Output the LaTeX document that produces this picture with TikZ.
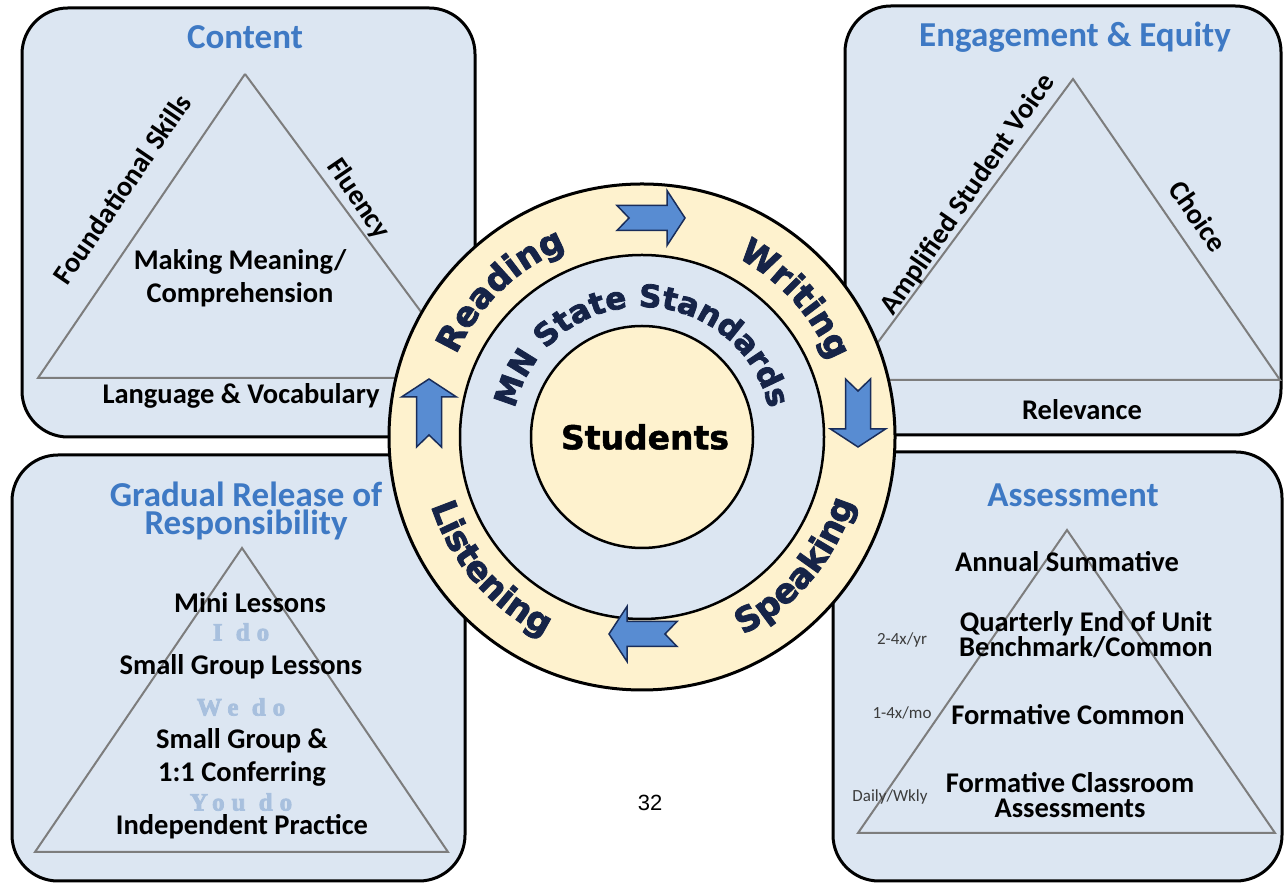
\documentclass[tikz,border=0pt]{standalone}
\usepackage{fontspec}
\setmainfont{Carlito}
\newfontfamily\ringfont{DejaVu Sans}[FakeBold=2.5]
\newfontfamily\studfont{DejaVu Sans}[FakeBold=1.5]
\newfontfamily\dofont{Liberation Serif}[LetterSpace=28, FakeBold=3]
\newfontfamily\numfont{Liberation Sans}
\usetikzlibrary{decorations.text}
\definecolor{panelbg}{RGB}{220,230,242}
\definecolor{ringcream}{RGB}{254,242,206}
\definecolor{arrowblue}{RGB}{88,140,210}
\definecolor{arrowedge}{RGB}{25,45,90}
\definecolor{titleblue}{RGB}{62,121,196}
\definecolor{ringtext}{RGB}{22,36,72}
\definecolor{trigray}{RGB}{125,125,125}
\definecolor{dotext}{RGB}{168,192,222}
\definecolor{smallgray}{RGB}{60,60,60}
\tikzset{
  panel/.style={draw=black, line width=3pt, fill=panelbg, rounded corners=46pt},
  tri/.style={draw=trigray, line width=2pt},
  title/.style={text=titleblue, font=\bfseries\fontsize{35}{30}\selectfont, align=center, inner sep=0pt},
  body/.style={text=black, font=\bfseries\fontsize{28.5}{33}\selectfont, align=center, inner sep=0pt},
  small/.style={text=smallgray, font=\fontsize{17}{20}\selectfont, inner sep=0pt},
  doit/.style={text=dotext, font=\dofont\bfseries\fontsize{25}{26}\selectfont, inner sep=0pt},
  arrowstyle/.style={fill=arrowblue, draw=arrowedge, line width=1.5pt, line join=miter},
  notcharrow/.pic={\path[arrowstyle] (-34,-12.5) -- (16,-12.5) -- (16,-27.5) -- (34,0) -- (16,27.5) -- (16,12.5) -- (-34,12.5) -- (-22,0) -- cycle;},
  ringword/.style 2 args={decorate, decoration={text along path, text align=center, text color=ringtext,
      text={|\ringfont\bfseries\fontsize{#2}{#2}\selectfont|#1}}},
}
\begin{document}
\begin{tikzpicture}[x=1pt,y=1pt]
\useasboundingbox (0,0) rectangle (1284,885);
\fill[white] (0,0) rectangle (1284,885);

% panels
\draw[panel] (22,448) rectangle (475,877);
\draw[panel] (845,450) rectangle (1281,879);
\draw[panel] (12,4) rectangle (465,430);
\draw[panel] (833,4) rectangle (1282,433);

% triangles
\coordinate (ca) at (245,811); \coordinate (cl) at (38,507); \coordinate (cr) at (470,507);
\draw[tri] (ca) -- (cl) -- (cr) -- (ca);
\coordinate (ea) at (1073,806); \coordinate (el) at (850,505); \coordinate (er) at (1280,505);
\draw[tri] (ea) -- (el) -- (er) -- cycle;
\coordinate (ga) at (242,337); \coordinate (gl) at (35,33); \coordinate (gr) at (448,33);
\draw[tri] (ga) -- (gl) -- (gr) -- cycle;
\coordinate (aa) at (1067,355); \coordinate (al) at (858,52); \coordinate (ar) at (1275,52);
\draw[tri] (aa) -- (al) -- (ar) -- cycle;

% Content
\node[title] (tcontent) at (245,848) {Content};
\node[body] (mm) at (240,607) {Making Meaning/\\Comprehension};
\node[body, rotate=55.7] (fs) at (122,696) {Foundational Skills};
\node[body, rotate=-55.7] (fl) at (358,686) {Fluency};
\node[body] (lv) at (241,489) {Language \& Vocabulary};

% Engagement
\node[title] (teng) at (1075,848) {Engagement \& Equity};
\node[body, rotate=55.5] (asv) at (968,690) {Amplified Student Voice};
\node[body, rotate=-55.5] (ch) at (1198,669) {Choice};
\node[body] (rel) at (1082,475) {Relevance};

% Gradual release
\node[title, font=\bfseries\fontsize{35}{28}\selectfont] (tgrr) at (246,374) {Gradual Release of\\Responsibility};
\node[body] (ml) at (250,282) {Mini Lessons};
\node[doit] (ido) at (241,253) {I do};
\node[body] (sgl) at (241,218) {Small Group Lessons};
\node[doit] (wedo) at (241,178) {We do};
\node[body] (sg) at (242,128) {Small Group \&\\1:1 Conferring};
\node[doit] (youdo) at (241,83) {You do};
\node[body] (ip) at (242,58) {Independent Practice};

% Assessment
\node[title] (tass) at (1073,390) {Assessment};
\node[body] (ann) at (1067,323) {Annual Summative};
\node[body, font=\bfseries\fontsize{28.5}{25}\selectfont] (qe) at (1086,250) {Quarterly End of Unit\\Benchmark/Common};
\node[body] (fc) at (1068,170) {Formative Common};
\node[body, font=\bfseries\fontsize{28.5}{25}\selectfont] (fca) at (1070,90) {Formative Classroom\\Assessments};
\node[small] (s1) at (902,245) {2-4x/yr};
\node[small] (s2) at (902,172) {1-4x/mo};
\node[small] (s3) at (890,88) {Daily/Wkly};

% central circles
\coordinate (C) at (642,448);
\node[circle, draw=black, line width=3pt, fill=ringcream, minimum size=506pt, inner sep=0pt] (outer) at (C) {};
\node[circle, draw=black, line width=2.5pt, fill=panelbg, minimum size=364pt, inner sep=0pt] (middle) at (C) {};
\node[circle, draw=black, line width=2.5pt, fill=ringcream, minimum size=222pt, inner sep=0pt] (inner) at (C) {};
\node[text=black, font=\studfont\bfseries\fontsize{33}{33}\selectfont, inner sep=0pt] (stud) at (645,448) {Students};

% ring words
\path[ringword={Reading}{34}, shift={(C)}] (178:203) arc[start angle=178, end angle=90, radius=203];
\path[ringword={Writing}{34}, shift={(C)}] (86:203) arc[start angle=86, end angle=-2, radius=203];
\path[ringword={Speaking}{34}, shift={(C)}] (-88:222) arc[start angle=-88, end angle=8, radius=222];
\path[ringword={Listening}{34}, shift={(C)}] (-189:222) arc[start angle=-189, end angle=-89, radius=222];
\path[ringword={MN State Standards}{31}, shift={(C)}] (188:130) arc[start angle=188, end angle=-8, radius=130];

% arrows
\pic (arT) at (651,667) {notcharrow};
\pic (arR) [rotate=-90] at (858,472) {notcharrow};
\pic (arB) [rotate=180] at (643,251) {notcharrow};
\pic (arL) [rotate=90] at (429,472) {notcharrow};

% page number
\node[font=\numfont\fontsize{22}{24}\selectfont, inner sep=0pt] (pg) at (650,82) {32};
\end{tikzpicture}
\end{document}
